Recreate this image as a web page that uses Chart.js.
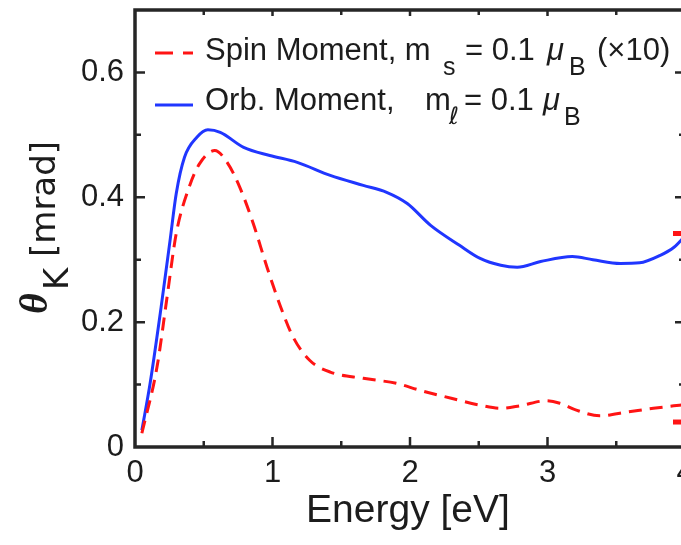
<!DOCTYPE html>
<html>
<head>
<meta charset="utf-8">
<script src="https://cdn.jsdelivr.net/npm/chart.js@4.4.1/dist/chart.umd.min.js"></script>
<style>
  html, body { margin: 0; padding: 0; background: #fff; overflow: hidden; width: 681px; height: 545px; }
  #wrap { position: relative; width: 700px; height: 545px; }
</style>
</head>
<body>
<div id="wrap"><canvas id="c" width="700" height="545"></canvas></div>
<script>
// Kerr rotation vs photon energy
const orbEnergy = [0.05, 0.11, 0.19, 0.255, 0.30, 0.36, 0.45, 0.53, 0.62, 0.79, 0.98, 1.18, 1.42, 1.66, 1.83, 1.98, 2.15, 2.36, 2.51, 2.66, 2.78, 2.95, 3.18, 3.33, 3.53, 3.67, 3.82, 3.92, 4.0];
const orbTheta  = [0.027, 0.102, 0.224, 0.331, 0.406, 0.464, 0.496, 0.508, 0.504, 0.480, 0.467, 0.456, 0.435, 0.419, 0.408, 0.390, 0.355, 0.323, 0.302, 0.291, 0.288, 0.297, 0.305, 0.300, 0.294, 0.295, 0.307, 0.320, 0.338];

const spinEnergy = [0.05, 0.16, 0.23, 0.30, 0.39, 0.47, 0.58, 0.67, 0.76, 0.86, 0.96, 1.06, 1.15, 1.27, 1.42, 1.66, 1.90, 2.07, 2.30, 2.51, 2.66, 2.80, 2.99, 3.09, 3.21, 3.38, 3.58, 3.77, 3.96, 4.0];
const spinTheta  = [0.022, 0.128, 0.235, 0.342, 0.414, 0.454, 0.475, 0.456, 0.417, 0.358, 0.288, 0.224, 0.176, 0.139, 0.120, 0.110, 0.102, 0.091, 0.078, 0.067, 0.062, 0.066, 0.074, 0.070, 0.059, 0.050, 0.056, 0.062, 0.067, 0.068];

// short red markers on the right-hand axis
const edgeEnergy = [4, 4];
const edgeTheta  = [0.342, 0.04];

const xTickLabels = ['0', '1', '2', '3', '4'];
const yTickLabels = ['0', '0.2', '0.4', '0.6'];

const INK = '#1c1c1c';
const BLUE = '#2036ff';
const RED = '#ff1414';

const toPoints = (xs, ys) => xs.map((x, i) => ({ x, y: ys[i] }));
const labelFor = (list, v) => list.find(l => Math.abs(Number(l) - v) < 1e-6) || '';

// keep the plot box fixed: no extra room reserved for edge labels
function fixScale(s, size) {
  if (s.isHorizontal()) s.height = size; else s.width = size;
  s.paddingTop = 0; s.paddingBottom = 0; s.paddingLeft = 0; s.paddingRight = 0;
}

// frame with inward major/minor ticks on all four sides
const framePlugin = {
  id: 'frame',
  afterDraw(chart) {
    const { ctx, chartArea: a, scales: { x, y } } = chart;
    ctx.save();
    ctx.strokeStyle = '#262626';
    ctx.lineWidth = 2.5;
    ctx.beginPath();
    for (let i = 1; i <= 6; i++) {
      const py = y.getPixelForValue(i / 10);
      const len = i % 2 === 0 ? 10 : 6;
      ctx.moveTo(a.left, py); ctx.lineTo(a.left + len, py);
      ctx.moveTo(a.right, py); ctx.lineTo(a.right - len, py);
    }
    for (let i = 1; i < 8; i++) {
      const px = x.getPixelForValue(i / 2);
      const major = i % 2 === 0;
      ctx.moveTo(px, a.bottom); ctx.lineTo(px, a.bottom - (major ? 10 : 6));
      ctx.moveTo(px, a.top); ctx.lineTo(px, a.top + (major ? 6 : 5));
    }
    ctx.stroke();
    ctx.lineWidth = 3.5;
    ctx.strokeRect(a.left, a.top, a.right - a.left, a.bottom - a.top);
    ctx.restore();
  }
};

// axis titles and legend with sub-scripted symbols
const textPlugin = {
  id: 'texts',
  afterDraw(chart) {
    const ctx = chart.ctx;
    ctx.save();
    ctx.fillStyle = INK;
    ctx.textBaseline = 'alphabetic';

    // x title
    ctx.textAlign = 'center';
    ctx.font = '39px "Liberation Sans", Arial, sans-serif';
    ctx.fillText('Energy [eV]', 408, 522);

    // y title, rotated
    ctx.save();
    ctx.rotate(-Math.PI / 2);
    ctx.textAlign = 'left';
    ctx.font = 'bold italic 40px "Liberation Serif", serif';
    ctx.fillText('θ', -314, 47);
    ctx.font = '34px "DejaVu Sans", sans-serif';
    ctx.fillText('K', -290, 68);
    ctx.fillText('[mrad]', -257, 55);
    ctx.restore();

    // legend
    ctx.textAlign = 'left';
    ctx.lineWidth = 3;
    ctx.strokeStyle = RED;
    ctx.setLineDash([18, 10]);
    ctx.beginPath(); ctx.moveTo(155, 53); ctx.lineTo(193, 53); ctx.stroke();
    ctx.setLineDash([]);
    ctx.strokeStyle = BLUE;
    ctx.beginPath(); ctx.moveTo(155, 105); ctx.lineTo(193, 105); ctx.stroke();

    const main = '31px "Liberation Sans", Arial, sans-serif';
    const ital = 'italic 31px "Liberation Sans", Arial, sans-serif';
    const sub = '25px "Liberation Sans", Arial, sans-serif';

    ctx.font = main;
    ctx.fillText('Spin Moment, m', 205, 60);
    ctx.font = sub;  ctx.fillText('s', 443, 75);
    ctx.font = main; ctx.fillText('= 0.1', 465, 60);
    ctx.font = ital; ctx.fillText('μ', 547, 60);
    ctx.font = sub;  ctx.fillText('B', 569, 75);
    ctx.font = main; ctx.fillText('(×10)', 597, 60);

    ctx.font = main;
    ctx.fillText('Orb. Moment,', 205, 110);
    ctx.fillText('m', 425, 110);
    ctx.font = 'italic 24px "DejaVu Sans", sans-serif'; ctx.fillText('ℓ', 449, 124);
    ctx.font = main; ctx.fillText('= 0.1', 464, 110);
    ctx.font = ital; ctx.fillText('μ', 543, 110);
    ctx.font = sub;  ctx.fillText('B', 564, 125);

    ctx.restore();
  }
};

new Chart(document.getElementById('c'), {
  type: 'line',
  data: {
    datasets: [
      {
        label: 'Spin Moment',
        data: toPoints(spinEnergy, spinTheta),
        borderColor: RED,
        borderWidth: 3,
        borderDash: [13, 8],
        pointRadius: 0,
        cubicInterpolationMode: 'monotone',
        fill: false
      },
      {
        label: 'Orb. Moment',
        data: toPoints(orbEnergy, orbTheta),
        borderColor: BLUE,
        borderWidth: 3,
        pointRadius: 0,
        cubicInterpolationMode: 'monotone',
        fill: false
      },
      {
        label: 'edge',
        data: toPoints(edgeEnergy, edgeTheta),
        showLine: false,
        pointStyle: 'line',
        pointRadius: 12,
        pointBorderWidth: 5,
        pointBorderColor: RED,
        borderColor: RED,
        clip: false
      }
    ]
  },
  options: {
    responsive: false,
    animation: false,
    devicePixelRatio: 1,
    layout: { autoPadding: false, padding: { left: 0, right: 15, top: 10, bottom: 0 } },
    plugins: { legend: { display: false }, tooltip: { enabled: false } },
    scales: {
      x: {
        type: 'linear',
        min: 0, max: 4,
        grid: { display: false, drawTicks: false },
        border: { display: false },
        ticks: {
          stepSize: 0.5, autoSkip: false, maxRotation: 0, padding: 8,
          color: INK,
          font: { family: '"Liberation Sans", Arial, sans-serif', size: 31 },
          callback: v => labelFor(xTickLabels, v)
        },
        afterFit(s) { fixScale(s, 98); }
      },
      y: {
        type: 'linear',
        min: 0, max: 0.7,
        grid: { display: false, drawTicks: false },
        border: { display: false },
        ticks: {
          stepSize: 0.1, autoSkip: false, padding: 11,
          color: INK,
          font: { family: '"Liberation Sans", Arial, sans-serif', size: 31 },
          callback: v => labelFor(yTickLabels, v)
        },
        afterFit(s) { fixScale(s, 135); }
      }
    }
  },
  plugins: [framePlugin, textPlugin]
});
</script>
</body>
</html>
